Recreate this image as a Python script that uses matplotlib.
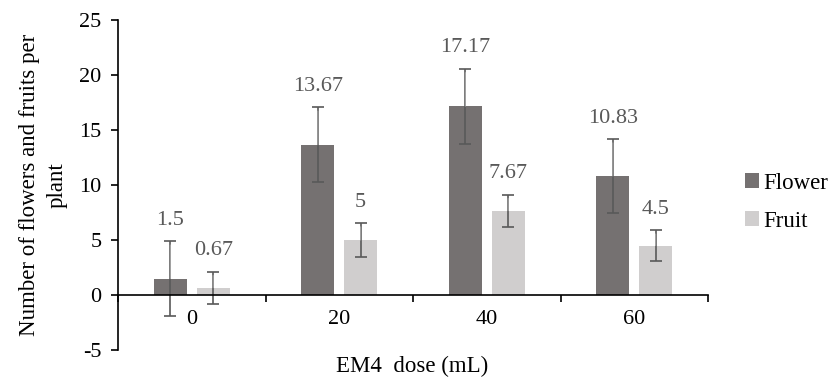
import numpy as np
import matplotlib
matplotlib.use('Agg')
import matplotlib.pyplot as plt

# EM4 dose categories
doses = ['0', '20', '40', '60']

# mean values per plant
flower = [1.5, 13.67, 17.17, 10.83]
fruit = [0.67, 5, 7.67, 4.5]

# error bars
flower_err = [3.4, 3.4, 3.4, 3.35]
fruit_err = [1.45, 1.55, 1.45, 1.4]

plt.rcParams['font.family'] = ['Liberation Serif', 'DejaVu Serif']
plt.rcParams['axes.unicode_minus'] = False

fig = plt.figure(figsize=(8.35, 3.78), dpi=100)
ax = fig.add_axes([118 / 835, 1 - 350 / 378, 590 / 835, 330 / 378])

x = np.arange(len(doses))
w = 0.225
off = 0.145
err_kw = dict(ecolor='#595959', elinewidth=1.2, capsize=4, capthick=1.2)

ax.bar(x - off, flower, w, color='#757171', label='Flower',
       yerr=flower_err, error_kw=err_kw)
ax.bar(x + off, fruit, w, color='#d0cece', label='Fruit',
       yerr=fruit_err, error_kw=err_kw)

# value labels above error bars with leader lines
for xs, vals, errs in [(x - off, flower, flower_err), (x + off, fruit, fruit_err)]:
    for xi, v, e in zip(xs, vals, errs):
        ax.annotate(f'{v:g}', xy=(xi, v), xytext=(xi, v + e + 1.9),
                    ha='center', va='center', fontsize=16, color='#595959',
                    arrowprops=dict(arrowstyle='-', color='#a6a6a6', lw=0.8,
                                    shrinkA=9, shrinkB=0))

ax.set_ylim(-5, 25)
ax.set_xlim(-0.5, 3.5)
ax.set_yticks(range(-5, 26, 5))
ax.tick_params(axis='y', labelsize=16, length=5, width=1.2, pad=7, colors='black')

# boundary ticks on x axis, labels at category centers
ax.set_xticks(np.arange(-0.5, 4, 1))
ax.set_xticklabels([])
ax.set_xticks(x, minor=True)
ax.set_xticklabels(doses, minor=True)
ax.tick_params(axis='x', which='major', length=5, width=1.2, direction='out')
ax.tick_params(axis='x', which='minor', length=0, pad=11, labelsize=16)

ax.spines['bottom'].set_position(('data', 0))
ax.spines['top'].set_visible(False)
ax.spines['right'].set_visible(False)
for s in ['left', 'bottom']:
    ax.spines[s].set_linewidth(1.2)

ax.set_ylabel('Number of flowers and fruits per\nplant', fontsize=16.5, linespacing=1.45)
ax.yaxis.set_label_coords(-0.085, 0.5)

fig.text(412 / 835, 6 / 378, 'EM4  dose (mL)', ha='center', va='baseline', fontsize=16.5)

fig.legend(loc='center left', bbox_to_anchor=(745 / 835, 0.465), frameon=False,
           fontsize=16.5, handlelength=0.6, handleheight=0.6, handletextpad=0.2,
           labelspacing=0.75, borderaxespad=0, borderpad=0)

fig.savefig('out.png', dpi=100)
